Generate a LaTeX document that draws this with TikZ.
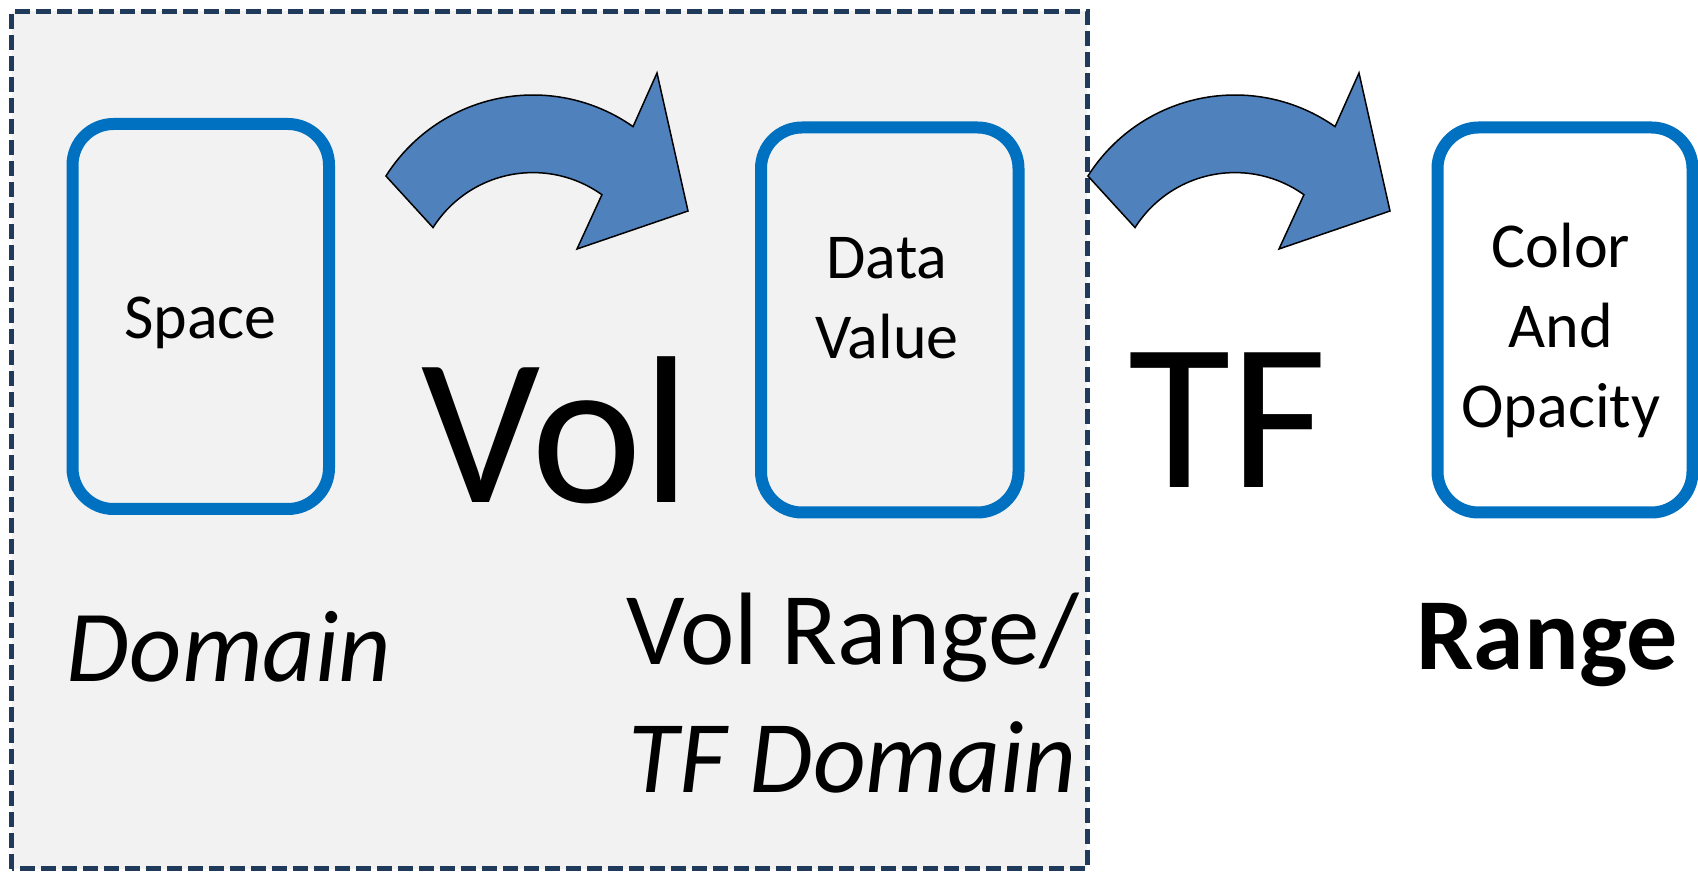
\documentclass[tikz,border=0pt]{standalone}
\usepackage{fontspec}
\setmainfont{Carlito}
\definecolor{boxblue}{HTML}{0070C0}
\definecolor{arrowblue}{HTML}{4F81BD}
\definecolor{navy}{HTML}{1F3A5B}
\definecolor{panelgray}{HTML}{F2F2F2}
\tikzset{
  panel/.style={fill=panelgray, draw=navy, line width=5pt, dash pattern=on 15pt off 6pt},
  stagebox/.style={draw=boxblue, line width=12pt, rounded corners=41pt, rectangle, inner sep=0pt},
  bigarrow/.style={fill=arrowblue, draw=black, line width=1.5pt, line join=miter},
  boxtext/.style={font=\fontsize{64}{80}\selectfont, align=center, inner sep=0pt, anchor=base},
  hugetext/.style={font=\fontsize{210}{250}\selectfont, inner sep=0pt, anchor=base},
  labeltext/.style={font=\fontsize{103}{128}\selectfont, align=center, inner sep=0pt, anchor=base},
  bentarrow/.pic={
    \draw[bigarrow] ([shift={(147.7:174)}]533,603) arc[start angle=147.7, end angle=54.9, radius=174]
      -- (657,799) -- (688,661) -- (577,623)
      -- ([shift={(54.4:118.4)}]533,581) arc[start angle=54.4, end angle=147.6, radius=118.4]
      -- cycle;
  }
}
\begin{document}
\begin{tikzpicture}[x=1pt, y=1pt]
\useasboundingbox (0,0) rectangle (1698,872);
% dashed panel
\draw[panel] (11.5,3) rectangle (1087,860.5);
% stage boxes
\node[stagebox, minimum width=256.5pt, minimum height=385pt] (space) at (200.75,555.5) {};
\node[stagebox, minimum width=257.5pt, minimum height=385pt] (data) at (889.75,552) {};
\node[stagebox, minimum width=255pt, minimum height=385pt] (color) at (1565,552) {};
% box texts (base = baseline of the last line)
\node[boxtext] (spacetxt) at (200.5,533) {Space};
\node[boxtext] (datatxt) at (887,513) {Data\\Value};
\node[boxtext] (colortxt) at (1561,444) {Color\\And\\Opacity};
% bent arrows
\pic (arrowvol) at (0,0) {bentarrow};
\pic (arrowtf) at (702,0) {bentarrow};
% big labels
\node[hugetext] (vol) at (556,369) {Vol};
\node[hugetext] (tf) at (1228,384) {TF};
% lower labels
\node[labeltext, font=\fontsize{102}{128}\selectfont\itshape] (domain) at (229,190) {Domain};
\node[labeltext] (volrange) at (853,79) {Vol Range/\\\textit{TF Domain}};
\node[labeltext, font=\fontsize{102}{128}\selectfont\bfseries] (range) at (1547,202) {Range};
\end{tikzpicture}
\end{document}
